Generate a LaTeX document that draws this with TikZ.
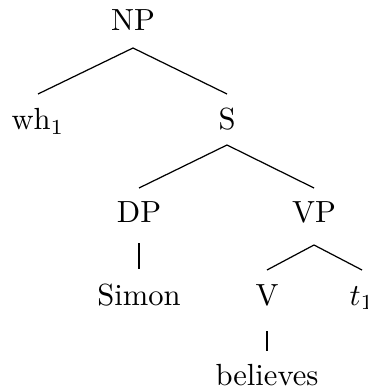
\documentclass[tikz,border=0pt]{standalone}
\usetikzlibrary{calc}
\begin{document}
\begin{tikzpicture}[x=0.327pt,y=-0.327pt,
  lbl/.style={anchor=base,inner sep=0pt,font=\fontsize{10}{12}\selectfont},
  edge/.style={line width=0.4pt}]
\useasboundingbox (0,0) rectangle (367,390);
\node[lbl] (np) at (133,31) {NP};
\node[lbl] (wh) at (38,130) {wh$_1$};
\node[lbl] (s) at (227,130) {S};
\node[lbl] (dp) at (139,222) {DP};
\node[lbl] (vp) at (314,222) {VP};
\node[lbl] (simon) at (139,305) {Simon};
\node[lbl] (v) at (267,305) {V};
\node[lbl] (t) at (362,305) {$t_1$};
\node[lbl] (bel) at (267,385) {believes};
\draw[edge] ($(np.base)+(0,17)$) -- ($(wh.base)+(0,-36)$);
\draw[edge] ($(np.base)+(0,17)$) -- ($(s.base)+(0,-36)$);
\draw[edge] ($(s.base)+(0,15)$) -- ($(dp.base)+(0,-34)$);
\draw[edge] ($(s.base)+(0,15)$) -- ($(vp.base)+(0,-34)$);
\draw[edge] ($(dp.base)+(0,21)$) -- ($(simon.base)+(0,-36)$);
\draw[edge] ($(vp.base)+(0,23)$) -- ($(v.base)+(0,-35)$);
\draw[edge] ($(vp.base)+(0,23)$) -- ($(t.base)+(0,-35)$);
\draw[edge] ($(v.base)+(0,26)$) -- ($(bel.base)+(0,-34)$);
\end{tikzpicture}
\end{document}
